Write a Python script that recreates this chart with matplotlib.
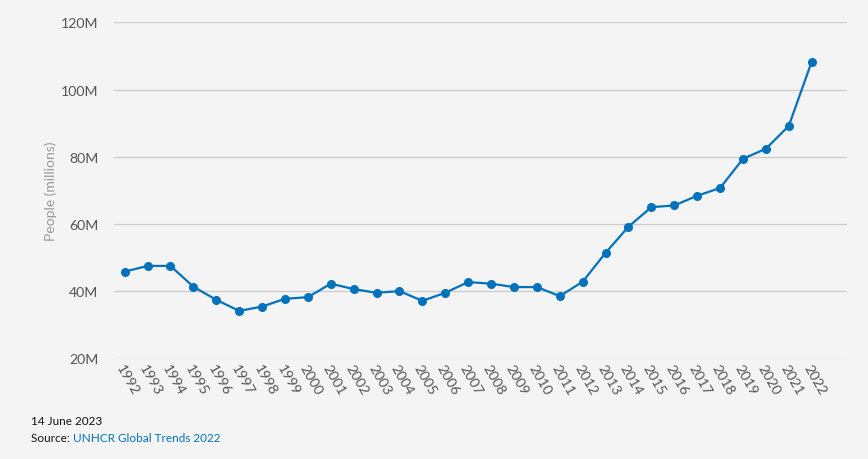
import numpy as np
from matplotlib import pyplot as plt

# refugees / forcibly displaced, millions
years = list(range(1992, 2023))
people = [45.8, 47.5, 47.5, 41.3, 37.4, 34.1, 35.4, 37.7, 38.2, 42.2,
          40.6, 39.5, 40.0, 37.1, 39.5, 42.7, 42.2, 41.2, 41.2, 38.5,
          42.8, 51.4, 59.2, 65.0, 65.5, 68.4, 70.7, 79.4, 82.4, 89.2,
          108.3]
yticks = [20, 40, 60, 80, 100, 120]
ytick_labels = [str(t) + "M" for t in yticks]

bg = "#f4f4f4"
blue = "#0072bc"

plt.rcParams['font.family'] = ['Lato', 'DejaVu Sans']

fig = plt.figure(figsize = (8.68, 4.6), dpi = 100)
fig.patch.set_facecolor(bg)
ax = fig.add_axes([0.131, 0.219, 0.8445, 0.730])
ax.set_facecolor(bg)

ax.plot(years, people, color = blue, linewidth = 1.6, marker = "o",
        markersize = 5.5, zorder = 3)

ax.set_ylim(20, 120)
ax.set_xlim(1991.52, 2023.53)
ax.set_yticks(yticks)
ax.set_yticklabels(ytick_labels)
ax.set_xticks(years)
ax.set_xticklabels([str(y) for y in years], rotation = -60, ha = "left",
                   va = "top", rotation_mode = "anchor")

ax.grid(axis = "y", color = "#cccccc", linewidth = 0.9)
ax.set_axisbelow(True)
for s in ax.spines.values():
    s.set_visible(False)
ax.tick_params(axis = "y", length = 0, pad = 11, labelsize = 10.2, labelcolor = "#555555")
ax.tick_params(axis = "x", length = 0, pad = 3, labelsize = 10.2, labelcolor = "#555555")

ax.set_ylabel("People (millions)", color = "#999999", fontsize = 10, labelpad = 12)
ax.yaxis.set_label_coords(-0.078, 0.5)

fig.text(31 / 868, 1 - 422 / 460, "14 June 2023", fontsize = 8.5, color = "#111111", va = "center")
t = fig.text(31 / 868, 1 - 439 / 460, "Source: ", fontsize = 8.5, color = "#111111", va = "center")
fig.canvas.draw()
bb = t.get_window_extent()
fig.text(bb.x1 / 868, 1 - 439 / 460, "UNHCR Global Trends 2022", fontsize = 8.5,
         color = blue, va = "center")

fig.savefig("out.png", dpi = 100, facecolor = bg)
